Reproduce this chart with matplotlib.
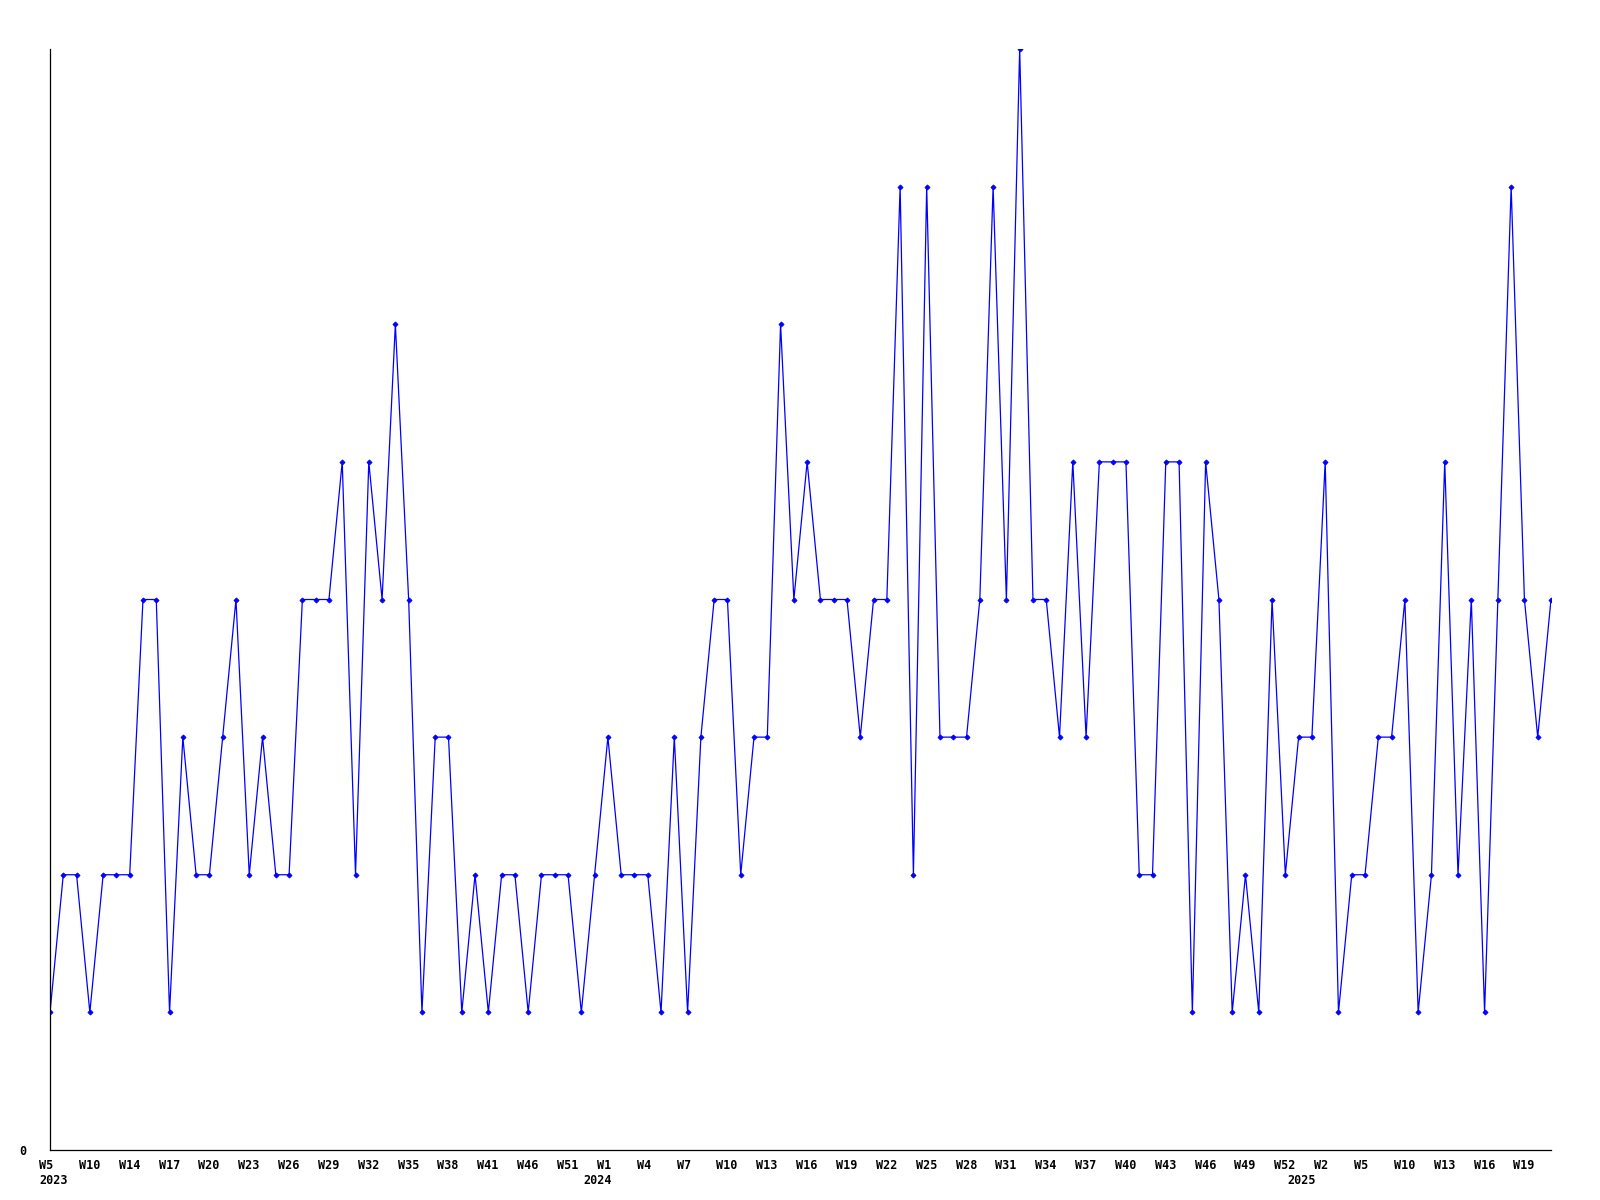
import matplotlib
matplotlib.use("Agg")
import matplotlib.pyplot as plt
from matplotlib.transforms import ScaledTranslation
import numpy as np

# ---- data ----
values = [1, 2, 2, 1, 2, 2, 2, 4, 4, 1,
          3, 2, 2, 3, 4, 2, 3, 2, 2, 4,
          4, 4, 5, 2, 5, 4, 6, 4, 1, 3,
          3, 1, 2, 1, 2, 2, 1, 2, 2, 2,
          1, 2, 3, 2, 2, 2, 1, 3, 1, 3,
          4, 4, 2, 3, 3, 6, 4, 5, 4, 4,
          4, 3, 4, 4, 7, 2, 7, 3, 3, 3,
          4, 7, 4, 8, 4, 4, 3, 5, 3, 5,
          5, 5, 2, 2, 5, 5, 1, 5, 4, 1,
          2, 1, 4, 2, 3, 3, 5, 1, 2, 2,
          3, 3, 4, 1, 2, 5, 2, 4, 1, 4,
          7, 4, 3, 4]

week_labels = ["W5", "W10", "W14", "W17", "W20", "W23", "W26", "W29", "W32", "W35",
               "W38", "W41", "W46", "W51", "W1", "W4", "W7", "W10", "W13", "W16",
               "W19", "W22", "W25", "W28", "W31", "W34", "W37", "W40", "W43", "W46",
               "W49", "W52", "W2", "W5", "W10", "W13", "W16", "W19"]
label_step = 3

year_labels = ["2023", "2024", "2025"]
year_positions = [0, 41, 94]

# ---- plot ----
fig = plt.figure(figsize=(16, 12), dpi=100)
ax = fig.add_axes([50 / 1600, 50 / 1200, 1501 / 1600, 1101 / 1200])

x = np.arange(len(values))
ax.plot(x, values, color="#0000FF", lw=0.9, marker="D", ms=2.6,
        markerfacecolor="#0000FF", markeredgecolor="#0000FF", mew=0.6)

ax.set_xlim(0, len(values) - 1)
ax.set_ylim(0, 8)

for s in ["top", "right"]:
    ax.spines[s].set_visible(False)
for s in ["left", "bottom"]:
    ax.spines[s].set_color("black")
    ax.spines[s].set_linewidth(0.9)

font = dict(family="DejaVu Sans Mono", weight="bold", size=8.5)

ax.set_yticks([0])
ax.set_yticklabels(["0"], **font)
ax.tick_params(axis="y", length=0, pad=17)

ax.xaxis.remove_overlapping_locs = False
tick_pos = np.arange(len(week_labels)) * label_step
ax.set_xticks(tick_pos)
ax.set_xticklabels(week_labels, **font)
ax.set_xticks(year_positions, minor=True)
ax.set_xticklabels(year_labels, minor=True, **font)
ax.tick_params(axis="x", which="major", length=0, pad=6.3)
ax.tick_params(axis="x", which="minor", length=0, pad=17.5)

off = ScaledTranslation(-11 / 100, 0, fig.dpi_scale_trans)
for lbl in ax.get_xticklabels(which="both"):
    lbl.set_horizontalalignment("left")
    lbl.set_transform(lbl.get_transform() + off)

fig.savefig("out.png", dpi=100)
